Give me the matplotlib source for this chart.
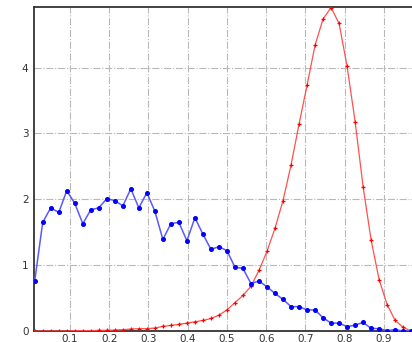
import numpy as np
import matplotlib
matplotlib.use('Agg')
import matplotlib.pyplot as plt

# bin centres (49 bins on [0, 1])
n_bins = 49
x = (np.arange(n_bins) + 0.5) / n_bins

blue = [0.76, 1.65, 1.87, 1.80, 2.13, 1.94, 1.63, 1.84, 1.87, 2.01,
        1.98, 1.90, 2.16, 1.87, 2.10, 1.82, 1.39, 1.63, 1.65, 1.37,
        1.72, 1.47, 1.24, 1.28, 1.22, 0.97, 0.95, 0.72, 0.76, 0.67,
        0.57, 0.48, 0.37, 0.37, 0.32, 0.32, 0.20, 0.12, 0.12, 0.065,
        0.09, 0.13, 0.04, 0.035, 0.005, 0.02, 0.0, 0.0, 0.0]

red = [0.0, 0.0, 0.0, 0.0, 0.0, 0.005, 0.005, 0.005, 0.01, 0.01,
       0.015, 0.02, 0.03, 0.035, 0.035, 0.045, 0.07, 0.085, 0.10, 0.12,
       0.14, 0.16, 0.19, 0.24, 0.32, 0.43, 0.54, 0.68, 0.92, 1.21,
       1.56, 1.98, 2.52, 3.14, 3.73, 4.34, 4.74, 4.91, 4.67, 4.02,
       3.18, 2.19, 1.38, 0.78, 0.40, 0.16, 0.056, 0.0, 0.0]

xticks = [0.1, 0.2, 0.3, 0.4, 0.5, 0.6, 0.7, 0.8, 0.9]
yticks = [0, 1, 2, 3, 4]

fig = plt.figure(figsize=(4.12, 3.42), dpi=100)
ax = fig.add_axes([34 / 412, 11 / 342, 378 / 412, 324 / 342])

ax.plot(x, red, color='#ff5050', lw=0.9, marker='+', ms=3, mew=0.9,
        mec='red', zorder=3)
ax.plot(x, blue, color='#5a5aff', lw=1.1, marker='o', ms=2.6,
        mfc='blue', mec='blue', zorder=4)

ax.set_xlim(0.0084, 0.9715)
ax.set_ylim(0, 4.92)
ax.set_xticks(xticks)
ax.set_xticklabels([str(t) for t in xticks])
ax.set_yticks(yticks)

ax.grid(True, color='#b8b8b8', linestyle='-.', linewidth=0.8)
ax.set_axisbelow(True)
ax.tick_params(length=0, labelsize=7.5, colors='#333333', pad=4)
ax.tick_params(axis='x', pad=2.5)

for s in ['left', 'top', 'bottom']:
    ax.spines[s].set_color('#333333')
    ax.spines[s].set_linewidth(1.3)
ax.spines['right'].set_visible(False)

fig.savefig('out.png', dpi=100)
